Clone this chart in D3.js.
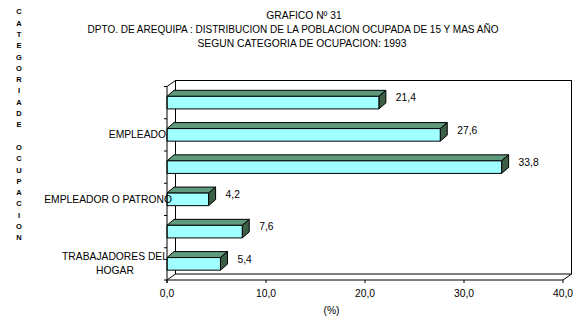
<!DOCTYPE html>
<html><head><meta charset="utf-8">
<script src="https://cdn.jsdelivr.net/npm/d3@7"></script>
<style>body{margin:0;background:#fff}svg{display:block}text{font-family:Arial,"Liberation Sans",sans-serif;fill:#000}</style>
</head><body>
<script>
const titleLines = ["GRAFICO Nº 31", "DPTO. DE AREQUIPA : DISTRIBUCION DE LA POBLACION OCUPADA DE 15 Y MAS AÑO", "SEGUN CATEGORIA DE OCUPACION: 1993"];
const sideTitle = "CATEGORIADE OCUPACION";
const categoryLabels = [[], ["EMPLEADO"], [], ["EMPLEADOR O PATRONO"], [], ["TRABAJADORES DEL", "HOGAR"]];
const values = [21.4, 27.6, 33.8, 4.2, 7.6, 5.4];
const valueLabels = ["21,4", "27,6", "33,8", "4,2", "7,6", "5,4"];
const xTicks = [0, 10, 20, 30, 40];
const xTickLabels = ["0,0", "10,0", "20,0", "30,0", "40,0"];
const xTitle = "(%)";

(function () {
const W = 585, H = 326;
const svg = d3.select("body").append("svg").attr("width", W).attr("height", H);
const fs = 10.3;
const titleX = [304, 293, 302];
const x = d3.scaleLinear().domain([0, 40]).range([167, 563]);
const y = d3.scaleBand().domain(d3.range(values.length)).range([86.5, 280]).paddingInner(0.61).paddingOuter(0.305);
const wd = 8.5, wh = 6;   // wall depth
const bd = 7, bh = 6;     // bar depth
const yTop = y.range()[0], yBot = y.range()[1];

svg.append("g").selectAll("text").data(titleLines).join("text")
  .attr("x", (d, i) => titleX[i]).attr("y", (d, i) => 15 + i * 14).attr("dy", "0.35em")
  .attr("text-anchor", "middle").style("font-size", (d, i) => (i === 1 ? 10 : fs) + "px").text(d => d);

const letters = sideTitle.split("");
svg.append("g").selectAll("text").data(letters).join("text")
  .attr("x", 19).attr("y", (d, i) => 11.7 + i * 11.3).attr("dy", "0.35em")
  .attr("text-anchor", "middle").style("font-size", "7.5px").style("font-weight", "bold")
  .text(d => d === " " ? "" : d);

const g = svg.append("g").attr("fill", "none").attr("stroke", "#000").attr("stroke-width", 1);
const X0 = x(0), X1 = x(40);
g.append("rect").attr("x", X0 + wd).attr("y", yTop - wh).attr("width", X1 - X0).attr("height", yBot - yTop).attr("fill", "#fff");
g.append("line").attr("x1", X0).attr("y1", yTop).attr("x2", X0 + wd).attr("y2", yTop - wh);
g.append("line").attr("x1", X0).attr("y1", yBot).attr("x2", X0 + wd).attr("y2", yBot - wh);
g.append("line").attr("x1", X1).attr("y1", yBot).attr("x2", X1 + wd).attr("y2", yBot - wh);

const bars = svg.append("g").attr("stroke", "#000").attr("stroke-width", 1).attr("stroke-linejoin", "round");
values.forEach((v, i) => {
  const y0 = y(i), h = y.bandwidth(), xe = x(v);
  bars.append("polygon").attr("fill", "#5F9A7C")
    .attr("points", [[X0, y0], [X0 + bd, y0 - bh], [xe + bd, y0 - bh], [xe, y0]].join(" "));
  bars.append("polygon").attr("fill", "#3C5E45")
    .attr("points", [[xe, y0], [xe + bd, y0 - bh], [xe + bd, y0 + h - bh], [xe, y0 + h]].join(" "));
  bars.append("rect").attr("x", X0).attr("y", y0).attr("width", xe - X0).attr("height", h).attr("fill", "#A0FFFF");
});

svg.append("g").selectAll("text").data(values).join("text")
  .attr("x", d => x(d) + 17).attr("y", (d, i) => y(i) + 1.5).attr("dy", "0.35em")
  .style("font-size", fs + "px").text((d, i) => valueLabels[i]);

const ax = svg.append("g").attr("stroke", "#000").attr("stroke-width", 1);
ax.append("line").attr("x1", X0).attr("y1", yTop).attr("x2", X0).attr("y2", yBot + 3);
ax.append("line").attr("x1", X0).attr("y1", yBot).attr("x2", X1).attr("y2", yBot);
const step = y.step();
d3.range(values.length + 1).forEach(k => {
  const yy = yTop + k * step;
  ax.append("line").attr("x1", X0 - 3).attr("y1", yy).attr("x2", X0).attr("y2", yy);
});
xTicks.forEach(t => {
  ax.append("line").attr("x1", x(t)).attr("y1", yBot).attr("x2", x(t)).attr("y2", yBot + 3);
});
svg.append("g").selectAll("text").data(xTicks).join("text")
  .attr("x", d => x(d)).attr("y", 293.5).attr("dy", "0.35em").attr("text-anchor", "middle")
  .style("font-size", fs + "px").text((d, i) => xTickLabels[i]);
svg.append("text").attr("x", 331.5).attr("y", 310.5).attr("dy", "0.35em").attr("text-anchor", "middle")
  .style("font-size", fs + "px").text(xTitle);

categoryLabels.forEach((lines, i) => {
  if (!lines.length) return;
  const cy = y(i) + y.bandwidth() / 2;
  if (lines.length === 1) {
    svg.append("text").attr("text-anchor", "end").style("font-size", fs + "px")
      .attr("x", i === 3 ? 172 : 166).attr("y", cy).attr("dy", "0.35em").text(lines[0]);
  } else {
    lines.forEach((l, j) => {
      svg.append("text").attr("text-anchor", "middle").attr("x", 115).attr("y", cy - 7 + j * 14)
        .attr("dy", "0.35em").style("font-size", fs + "px").text(l);
    });
  }
});
})();
</script>
</body></html>
